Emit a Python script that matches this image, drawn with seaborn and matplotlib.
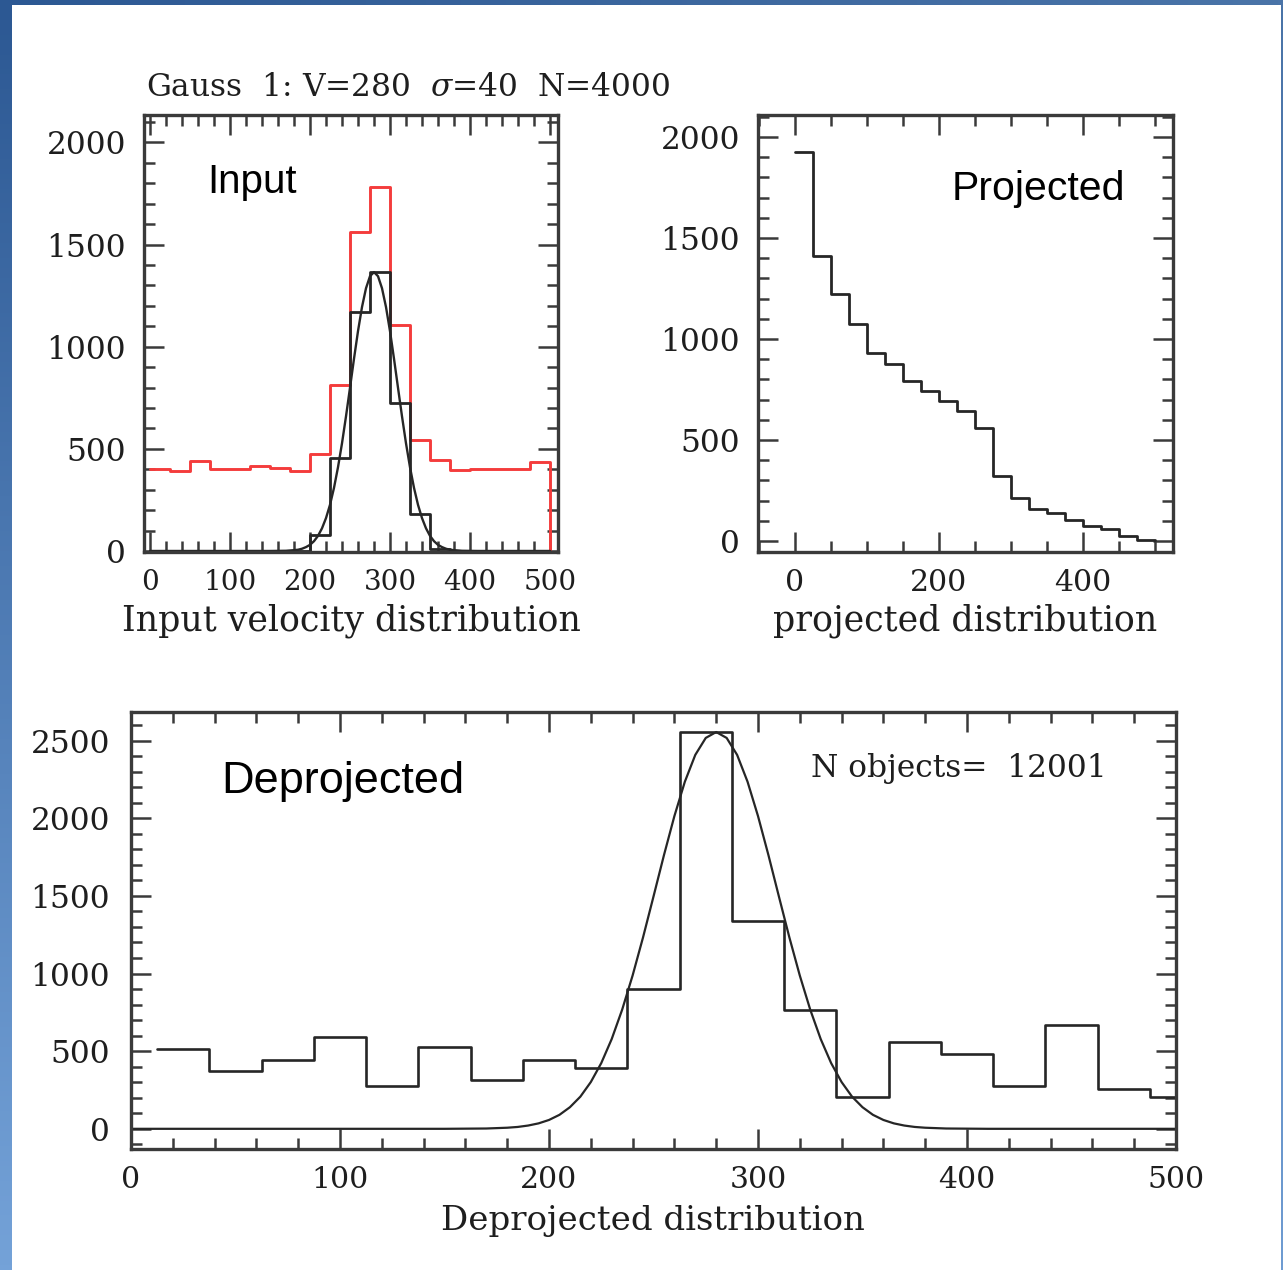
import numpy as np
import pandas as pd
import matplotlib
matplotlib.use("Agg")
import matplotlib.pyplot as plt
import seaborn as sns
from matplotlib.ticker import MultipleLocator
from matplotlib.colors import LinearSegmentedColormap

# ---------------- data ----------------
input_edges = [0, 25, 50, 75, 100, 125, 150, 175, 200, 225, 250, 275, 300,
               325, 350, 375, 400, 425, 450, 475, 500]
input_red = [402, 392, 438, 402, 402, 417, 408, 392, 475, 814, 1560, 1781,
             1108, 541, 446, 397, 402, 402, 402, 435]
input_black = [0, 0, 0, 0, 0, 0, 0, 0, 80, 454, 1170, 1364, 724, 180, 8,
               0, 0, 0, 0, 0]

gauss_x = [0, 150, 170, 180, 185, 190, 195, 200, 205, 210, 215, 220, 225, 230,
           235, 240, 245, 250, 255, 260, 265, 270, 275, 280, 285, 290, 295,
           300, 305, 310, 315, 320, 325, 330, 335, 340, 345, 350, 355, 360,
           365, 370, 375, 380, 390, 410, 500]
input_gauss = [0, 0, 1, 4, 6, 11, 19, 30, 48, 74, 111, 161, 226, 309, 410,
               527, 659, 799, 941, 1076, 1194, 1286, 1345, 1365, 1345, 1286,
               1194, 1076, 941, 799, 659, 527, 410, 309, 226, 161, 111, 74,
               48, 30, 19, 11, 6, 4, 1, 0, 0]

proj_edges = [0, 25, 50, 75, 100, 125, 150, 175, 200, 225, 250, 275, 300,
              325, 350, 375, 400, 425, 450, 475, 500]
proj_counts = [1924, 1411, 1225, 1076, 931, 878, 790, 745, 691, 646, 558,
               323, 214, 157, 141, 103, 75, 58, 23, 7]

deproj_edges = [12.5, 37.5, 62.5, 87.5, 112.5, 137.5, 162.5, 187.5, 212.5,
                237.5, 262.5, 287.5, 312.5, 337.5, 362.5, 387.5, 412.5,
                437.5, 462.5, 487.5, 512.5]
deproj_counts = [513, 374, 445, 591, 273, 530, 316, 440, 391, 899, 2555,
                 1340, 767, 202, 562, 483, 273, 670, 256, 202]
deproj_gauss = [0, 0, 2, 7, 12, 21, 35, 57, 90, 139, 207, 301, 423, 578, 767,
                987, 1233, 1496, 1762, 2014, 2235, 2408, 2517, 2555, 2517,
                2408, 2235, 2014, 1762, 1496, 1233, 987, 767, 578, 423, 301,
                207, 139, 90, 57, 35, 21, 12, 7, 2, 0, 0]

title_text = "Gauss  1: V=280  $\\sigma$=40  N=4000"
xlabel_input = "Input velocity distribution"
xlabel_proj = "projected distribution"
xlabel_deproj = "Deprojected distribution"
nobj_text = "N objects=  12001"

# ---------------- style ----------------
sns.set_theme(style="white")
plt.rcParams['font.family'] = ['DejaVu Serif']
plt.rcParams['mathtext.fontset'] = 'dejavuserif'

W, H = 1283, 1270
fig = plt.figure(figsize=(W / 100, H / 100), dpi=100)
fig.patch.set_facecolor('white')

LINE = '#262626'
SPINE = '#3a3a3a'
TXT = '#1e1e1e'


def px_axes(left, top, right, bottom):
    return fig.add_axes([left / W, 1 - bottom / H, (right - left) / W, (bottom - top) / H])


def step_frame(edges, counts, drop=False):
    xs = list(edges)
    ys = list(counts) + [counts[-1]]
    if drop:
        xs.append(edges[-1])
        ys.append(0)
    return pd.DataFrame({'x': xs, 'y': ys})


def style_axes(ax, xlim, ylim, xmaj, xmin, ymaj, ymin, xfs, yfs, xpad, ypad):
    ax.set_facecolor('white')
    ax.set_xlim(*xlim)
    ax.set_ylim(*ylim)
    ax.xaxis.set_major_locator(MultipleLocator(xmaj))
    ax.xaxis.set_minor_locator(MultipleLocator(xmin))
    ax.yaxis.set_major_locator(MultipleLocator(ymaj))
    ax.yaxis.set_minor_locator(MultipleLocator(ymin))
    ax.tick_params(which='both', direction='in', top=True, right=True,
                   bottom=True, left=True, color=SPINE, labelcolor=TXT)
    ax.tick_params(which='major', length=14.5, width=1.8)
    ax.tick_params(which='minor', length=8, width=1.8)
    ax.tick_params(axis='x', which='major', labelsize=xfs, pad=xpad)
    ax.tick_params(axis='y', which='major', labelsize=yfs, pad=ypad)
    for s in ax.spines.values():
        s.set_linewidth(2.4)
        s.set_color(SPINE)
        s.set_visible(True)
    ax.set_xlabel('')
    ax.set_ylabel('')
    ax.grid(False)


# ---------------- panel 1: input ----------------
ax1 = px_axes(144, 115, 558, 552)
sns.lineplot(data=step_frame(input_edges, input_red, drop=True), x='x', y='y',
             drawstyle='steps-post', estimator=None, sort=False,
             color='#f43c3c', linewidth=2.1, ax=ax1)
sns.lineplot(data=step_frame(input_edges, input_black), x='x', y='y',
             drawstyle='steps-post', estimator=None, sort=False,
             color=LINE, linewidth=2.0, ax=ax1)
sns.lineplot(x=gauss_x, y=input_gauss, estimator=None, sort=False,
             color=LINE, linewidth=1.7, ax=ax1)
style_axes(ax1, (-7.5, 510), (-5, 2134), 100, 20, 500, 100, 20, 22.5, 12, 13)
ax1.text((207 - 144) / 414, (552 - 193) / 437, "Input", transform=ax1.transAxes,
         fontsize=29, family=['Liberation Sans', 'DejaVu Sans'], color='black',
         va='baseline', ha='left')

# ---------------- panel 2: projected ----------------
ax2 = px_axes(758, 115, 1173, 552)
sns.lineplot(data=step_frame(proj_edges, proj_counts), x='x', y='y',
             drawstyle='steps-post', estimator=None, sort=False,
             color=LINE, linewidth=2.0, ax=ax2)
style_axes(ax2, (-51, 525), (-54, 2109), 200, 50, 500, 100, 21.5, 22.5, 12, 13)
ax2.text((952 - 758) / 415, (552 - 200) / 437, "Projected", transform=ax2.transAxes,
         fontsize=29.5, family=['Liberation Sans', 'DejaVu Sans'], color='black',
         va='baseline', ha='left')

# ---------------- panel 3: deprojected ----------------
ax3 = px_axes(131, 712, 1176, 1149)
sns.lineplot(data=step_frame(deproj_edges, deproj_counts), x='x', y='y',
             drawstyle='steps-post', estimator=None, sort=False,
             color=LINE, linewidth=1.9, ax=ax3)
sns.lineplot(x=gauss_x, y=deproj_gauss, estimator=None, sort=False,
             color=LINE, linewidth=1.6, ax=ax3)
style_axes(ax3, (0, 500), (-130, 2684), 100, 20, 500, 100, 21.5, 22.5, 12, 15)
ax3.text((221 - 131) / 1045, (1149 - 793) / 437, "Deprojected", transform=ax3.transAxes,
         fontsize=32.5, family=['Liberation Sans', 'DejaVu Sans'], color='black',
         va='baseline', ha='left')
ax3.text((811 - 131) / 1045, (1149 - 777) / 437, nobj_text, transform=ax3.transAxes,
         fontsize=22.5, color=TXT, va='baseline', ha='left')

# ---------------- axis labels and title ----------------
fig.text(351 / W, 1 - 631 / H, xlabel_input, fontsize=25, color=TXT,
         ha='center', va='baseline')
fig.text(965.5 / W, 1 - 631 / H, xlabel_proj, fontsize=25, color=TXT,
         ha='center', va='baseline')
fig.text(653 / W, 1 - 1230 / H, xlabel_deproj, fontsize=24.5, color=TXT,
         ha='center', va='baseline')
fig.text(146 / W, 1 - 96 / H, title_text, fontsize=22.5, color=TXT,
         ha='left', va='baseline')

# ---------------- slide frame (blue border) ----------------
cm_left = LinearSegmentedColormap.from_list('l', ['#2c5893', '#74a2d8'])
cm_top = LinearSegmentedColormap.from_list('t', ['#2c5893', '#4a74a8'])
axl = fig.add_axes([0, 0, 12 / W, 1])
axl.imshow(np.linspace(0, 1, 256).reshape(-1, 1), aspect='auto', cmap=cm_left)
axl.set_axis_off()
axt = fig.add_axes([0, 1 - 5 / H, 1, 5 / H])
axt.imshow(np.linspace(0, 1, 256).reshape(1, -1), aspect='auto', cmap=cm_top)
axt.set_axis_off()
axr = fig.add_axes([1 - 2 / W, 0, 2 / W, 1])
axr.imshow(np.linspace(0, 1, 256).reshape(-1, 1), aspect='auto',
           cmap=LinearSegmentedColormap.from_list('r', ['#4a74a8', '#6f9cd2']))
axr.set_axis_off()

fig.savefig('out.png', dpi=100, facecolor='white')
